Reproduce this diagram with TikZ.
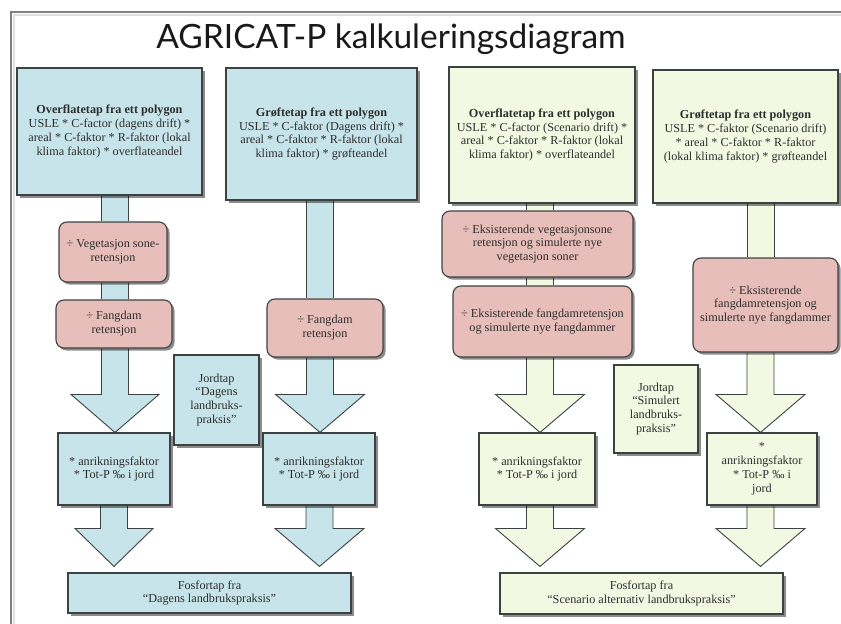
\documentclass[tikz,border=0pt]{standalone}
\usepackage{fontspec}
\setmainfont{Liberation Serif}
\newfontfamily\titlefont{Lato}
\usetikzlibrary{calc,shadows}
\pgfdeclarelayer{bg}
\pgfdeclarelayer{background}
\pgfsetlayers{bg,background,main}
\definecolor{bluefill}{HTML}{C6E4E9}
\definecolor{greenfill}{HTML}{F3F8E2}
\definecolor{pinkfill}{HTML}{E8BEBA}
\definecolor{edge}{HTML}{3C4242}
\definecolor{txt}{HTML}{2E2E2E}
\tikzset{
  boxbase/.style={draw=edge, line width=1.1pt, align=center, inner sep=1pt,
    text=txt, font=\fontsize{12.2}{13.9}\selectfont,
    drop shadow={shadow xshift=2.5pt, shadow yshift=-2.5pt, fill=black, opacity=0.45}},
  bluebox/.style={boxbase, fill=bluefill},
  greenbox/.style={boxbase, fill=greenfill},
  pinkbox/.style={boxbase, fill=pinkfill, rounded corners=8pt},
  bluearr/.style={draw=edge, line width=0.9pt, fill=bluefill, line join=miter},
  greenarr/.style={draw=edge, line width=0.9pt, fill=greenfill, line join=miter},
  bluestem/.style={fill=bluefill},
  greenstem/.style={fill=greenfill},
  stemline/.style={draw=edge, line width=0.9pt},
}
% #1 style, #2 x centre, #3 from node, #4 to node, #5 half head width, #6 gap above target
\newcommand\blockarr[6]{%
  \draw[#1] let \p1=(#3.south), \p2=(#4.north) in
   ({#2pt-13.5pt},\y1) -- ({#2pt-13.5pt},{\y2+#6pt+38pt}) -- ({#2pt-#5pt},{\y2+#6pt+38pt})
   -- (#2pt,{\y2+#6pt}) -- ({#2pt+#5pt},{\y2+#6pt+38pt}) -- ({#2pt+13.5pt},{\y2+#6pt+38pt})
   -- ({#2pt+13.5pt},\y1);}
% #1 fill style, #2 x centre, #3 from node, #4 to node
\newcommand\stemc[4]{%
  \fill[#1] let \p1=(#3.south), \p2=(#4.north) in ({#2pt-13.5pt},\y1) rectangle ({#2pt+13.5pt},\y2);
  \draw[stemline] let \p1=(#3.south), \p2=(#4.north) in
   ({#2pt-13.5pt},\y1) -- ({#2pt-13.5pt},\y2) ({#2pt+13.5pt},\y1) -- ({#2pt+13.5pt},\y2);}
\begin{document}
\begin{tikzpicture}[x=1pt,y=-1pt]
\useasboundingbox (0,0) rectangle (841,624);
\begin{pgfonlayer}{bg}
  \fill[white] (0,0) rectangle (841,624);
  \draw[line width=1.5pt, black!12] (841,15) -- (14,15) -- (14,624);
  \draw[line width=1.8pt, black!50] (841,12) -- (11,12) -- (11,624);
\end{pgfonlayer}

\node[font=\titlefont\fontsize{33.5}{40}\selectfont, text=black!90] (title) at (391,39) {AGRICAT-P kalkuleringsdiagram};

% left (blue) side
\node[bluebox, minimum width=185pt, minimum height=127pt] (b1) at (109.5,131.5)
  {\textbf{Overflatetap fra ett polygon}\\USLE * C-factor (dagens drift) *\\areal * C-faktor * R-faktor (lokal\\klima faktor) * overflateandel};
\node[bluebox, minimum width=191pt, minimum height=132pt] (b2) at (321.5,134)
  {\textbf{Grøftetap fra ett polygon}\\USLE * C-faktor (Dagens drift) *\\areal * C-faktor * R-faktor (lokal\\klima faktor) * grøfteandel};
\node[pinkbox, minimum width=108pt, minimum height=60pt] (p1) at (113,252)
  {÷ Vegetasjon sone-\\retensjon};
\node[pinkbox, minimum width=116pt, minimum height=48pt] (p2) at (114,324)
  {÷ Fangdam\\retensjon};
\node[pinkbox, minimum width=116pt, minimum height=58pt] (p3) at (325,328)
  {÷ Fangdam\\retensjon};
\node[bluebox, minimum width=112pt, minimum height=72pt] (a1) at (114,469)
  {* anrikningsfaktor\\* Tot-P ‰ i jord};
\node[bluebox, minimum width=112pt, minimum height=72pt] (a2) at (319,469)
  {* anrikningsfaktor\\* Tot-P ‰ i jord};
\node[bluebox, minimum width=85pt, minimum height=90pt] (j1) at (216.5,400)
  {Jordtap\\“Dagens\\landbruks-\\praksis”};
\node[bluebox, minimum width=283pt, minimum height=40pt] (f1) at (209.5,593)
  {Fosfortap fra\\“Dagens landbrukspraksis”};

% right (green) side
\node[greenbox, minimum width=186pt, minimum height=136pt] (b3) at (542,135)
  {\textbf{Overflatetap fra ett polygon}\\USLE * C-factor (Scenario drift) *\\areal * C-faktor * R-faktor (lokal\\klima faktor) * overflateandel};
\node[greenbox, minimum width=185pt, minimum height=133pt] (b4) at (745.5,136.5)
  {\textbf{Grøftetap fra ett polygon}\\USLE * C-faktor (Scenario drift)\\* areal * C-faktor * R-faktor\\(lokal klima faktor) * grøfteandel};
\node[pinkbox, minimum width=191pt, minimum height=66pt] (p4) at (537.5,244)
  {÷ Eksisterende vegetasjonsone\\retensjon og simulerte nye\\vegetasjon soner};
\node[pinkbox, minimum width=179pt, minimum height=71pt] (p5) at (542.5,321.5)
  {÷ Eksisterende fangdamretensjon\\og simulerte nye fangdammer};
\node[pinkbox, minimum width=145pt, minimum height=94pt] (p6) at (765.5,305)
  {÷ Eksisterende\\fangdamretensjon og\\simulerte nye fangdammer};
\node[greenbox, minimum width=116pt, minimum height=72pt] (a3) at (537,469)
  {* anrikningsfaktor\\* Tot-P ‰ i jord};
\node[greenbox, minimum width=110pt, minimum height=72pt] (a4) at (762,469)
  {*\\anrikningsfaktor\\* Tot-P ‰ i\\jord};
\node[greenbox, minimum width=84pt, minimum height=88pt] (j2) at (656,409)
  {Jordtap\\“Simulert\\landbruks-\\praksis”};
\node[greenbox, minimum width=283pt, minimum height=41pt] (f2) at (641.5,593.5)
  {Fosfortap fra\\“Scenario alternativ landbrukspraksis”};

\begin{pgfonlayer}{background}
  % column 1
  \stemc{bluestem}{115}{b1}{p1}
  \stemc{bluestem}{115}{p1}{p2}
  \blockarr{bluearr}{115}{p2}{a1}{44}{0}
  \blockarr{bluearr}{114}{a1}{f1}{39}{6}
  % column 2
  \stemc{bluestem}{320}{b2}{p3}
  \blockarr{bluearr}{320}{p3}{a2}{44.5}{0}
  \blockarr{bluearr}{319.5}{a2}{f1}{44.5}{6}
  % column 3
  \stemc{greenstem}{540}{b3}{p4}
  \stemc{greenstem}{540}{p4}{p5}
  \blockarr{greenarr}{540}{p5}{a3}{44.5}{0}
  \blockarr{greenarr}{540}{a3}{f2}{44.5}{6}
  % column 4
  \stemc{greenstem}{760.5}{b4}{p6}
  \blockarr{greenarr}{760.5}{p6}{a4}{44.5}{0}
  \blockarr{greenarr}{760.5}{a4}{f2}{44.5}{6}
\end{pgfonlayer}
\end{tikzpicture}
\end{document}
